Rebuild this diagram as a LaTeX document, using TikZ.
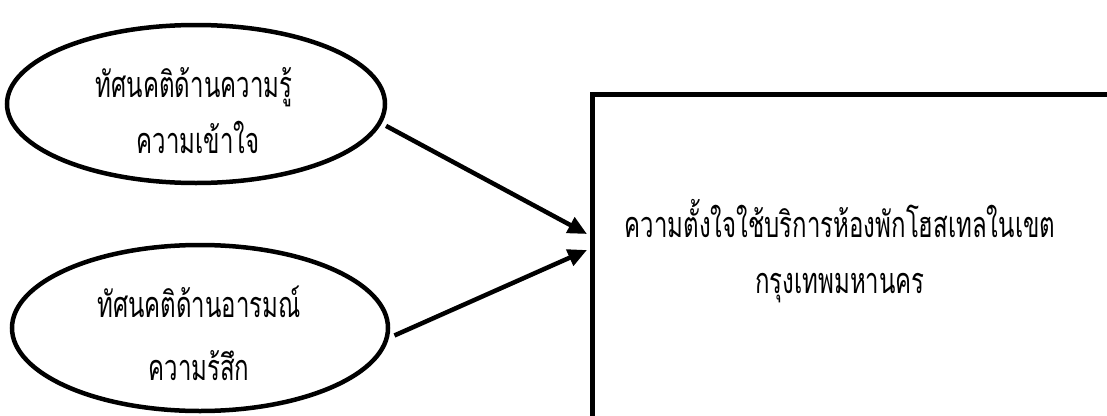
\documentclass[tikz,border=0pt]{standalone}
\usepackage{fontspec}
\newfontfamily\thaifont[Script=Thai]{Loma}
\usetikzlibrary{shapes.geometric,arrows.meta}
\newcommand{\thtxt}[1]{\scalebox{0.667}[1]{\thaifont\fontsize{36}{40}\selectfont #1}}
\begin{document}
\begin{tikzpicture}[x=1pt,y=-1pt,
  oval/.style={ellipse,draw,line width=4.5pt,inner sep=0pt},
  box/.style={rectangle,draw,line width=4.5pt,inner sep=0pt,anchor=north west},
  lbl/.style={anchor=base,inner sep=0pt},
  conn/.style={line width=4.5pt,-{Triangle[length=19pt,width=17pt]}}]
\useasboundingbox (0,0) rectangle (1107,415);
\clip (0,0) rectangle (1107,415);
\node[oval,minimum width=378pt,minimum height=158pt] (e1) at (196,104) {};
\node[oval,minimum width=376pt,minimum height=166pt] (e2) at (200,328) {};
\node[box,minimum width=600pt,minimum height=400pt] (r) at (590,92) {};
\node[lbl] (t1a) at (194,97) {\thtxt{ทัศนคติด้านความรู้}};
\node[lbl] (t1b) at (198,153) {\thtxt{ความเข้าใจ}};
\node[lbl] (t2a) at (199,317) {\thtxt{ทัศนคติด้านอารมณ์}};
\node[lbl] (t2b) at (199,380) {\thtxt{ความร้สึก}};
\node[lbl] (t3a) at (840,237) {\thtxt{ความตั้งใจใช้บริการห้องพักโฮสเทลในเขต}};
\node[lbl] (t3b) at (840,293) {\thtxt{กรุงเทพมหานคร}};
\coordinate (p1) at (587,234);
\coordinate (p2) at (587,250);
\draw[conn,shorten <=5pt] (e1.-6) -- (p1);
\draw[conn,shorten <=6pt] (e2.-3) -- (p2);
\end{tikzpicture}
\end{document}
